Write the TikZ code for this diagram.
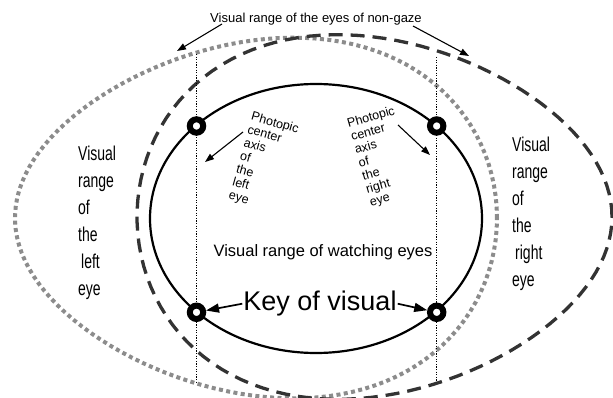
\documentclass[tikz,border=0pt]{standalone}
\usepackage{fontspec}
\setmainfont{Liberation Sans}
\newfontfamily\narrowfont[FakeStretch=0.7]{Liberation Sans}
\usetikzlibrary{arrows.meta}
\usetikzlibrary{positioning}
\definecolor{dashgray}{HTML}{333333}
\definecolor{dotgray}{HTML}{8C8C8C}
\tikzstyle{watchrange} = [line width=2.2pt, draw=black]
\tikzstyle{leftrange} = [line width=4pt, draw=dotgray, dash pattern=on 4pt off 3.4pt]
\tikzstyle{rightrange} = [line width=3.3pt, draw=dashgray, dash pattern=on 14pt off 8pt]
\tikzstyle{axisline} = [line width=1.2pt, dash pattern=on 1.2pt off 1.4pt]
\tikzstyle{keypoint} = [circle, draw=black, fill=white, line width=6pt, minimum size=13.4pt, inner sep=0pt]
\tikzstyle{arrow} = [line width=1.1pt, -{Triangle[length=9pt,width=6.5pt]}]
\tikzstyle{keyarrow} = [line width=1.7pt, -{Triangle[length=13pt,width=9pt]}]
\tikzstyle{sidelabel} = [align=left, inner sep=0pt, anchor=north west,
  font=\narrowfont\fontsize{20}{27}\selectfont]
\tikzstyle{axislabel} = [align=left, inner sep=0pt, anchor=north west,
  font=\fontsize{12.5}{13.6}\selectfont]
\begin{document}
\begin{tikzpicture}[x=1pt, y=-1pt]
  \useasboundingbox (0,0) rectangle (613,398);
  % visual range of the left eye (gray dots), egg wider to the right
  \draw [leftrange] plot [domain=0:360, samples=120, variable=\t]
    ({256+241*cos(\t)}, {218-178*sin(\t)*(1+0.165*cos(\t))}) -- cycle;
  % visual range of the right eye (dashes), egg wider to the left
  \draw [rightrange] plot [domain=0:360, samples=120, variable=\t]
    ({374.5+237.5*cos(\t)}, {217-180*sin(\t)*(1-0.163*cos(\t))}) -- cycle;
  % visual range of watching eyes
  \draw [watchrange] (316,218.5) ellipse [x radius=166pt, y radius=134.5pt];
  % photopic center axes
  \coordinate (ltop) at (196.5,54);
  \coordinate (lbot) at (196.5,383);
  \coordinate (rtop) at (436.7,57);
  \coordinate (rbot) at (436.7,382);
  \draw [axisline] (ltop) -- (lbot);
  \draw [axisline] (rtop) -- (rbot);
  % key points
  \node (lt) [keypoint] at (196.5,126) {};
  \node (rt) [keypoint] at (436.7,126) {};
  \node (lb) [keypoint] at (196.5,312.3) {};
  \node (rb) [keypoint] at (436.7,312.3) {};
  % labels
  \node (nongaze) [font=\fontsize{13}{15}\selectfont, anchor=base] at (316,22.7)
    {Visual range of the eyes of non-gaze};
  \node (watching) [font=\fontsize{16.5}{18}\selectfont, anchor=base] at (323,256.7)
    {Visual range of watching eyes};
  \node (key) [font=\fontsize{27}{30}\selectfont, anchor=base, inner sep=1pt] at (320,310.7)
    {Key of visual};
  \node (lrange) [sidelabel] at (78,146) {Visual\\range\\of\\the\\\hspace*{3pt}left\\eye};
  \node (rrange) [sidelabel] at (512,137) {Visual\\range\\of\\the\\\hspace*{3pt}right\\eye};
  \node (laxis) [axislabel, rotate=-16] at (253,111) {Photopic\\center\\axis\\of\\the\\left\\eye};
  \node (raxis) [axislabel, rotate=16] at (346,119) {Photopic\\center\\axis\\of\\the\\right\\eye};
  % arrows
  \coordinate (ngls) at (222,24);
  \coordinate (ngle) at (177,51);
  \coordinate (ngrs) at (413,26);
  \coordinate (ngre) at (469,56);
  \coordinate (laxs) at (243,132);
  \coordinate (laxe) at (205,162);
  \coordinate (raxs) at (398,125);
  \coordinate (raxe) at (430,155);
  \draw [arrow] (ngls) -- (ngle);
  \draw [arrow] (ngrs) -- (ngre);
  \draw [arrow] (laxs) -- (laxe);
  \draw [arrow] (raxs) -- (raxe);
  \draw [keyarrow] (key.west) -- (lb);
  \draw [keyarrow] (key.east) -- (rb);
\end{tikzpicture}
\end{document}
